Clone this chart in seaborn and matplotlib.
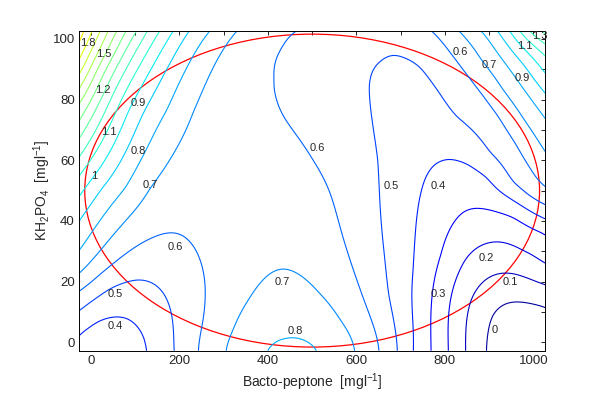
"""Response surface contour: Bacto-peptone vs KH2PO4."""

import matplotlib

matplotlib.use("Agg")
import matplotlib.pyplot as plt
import numpy as np
import pandas as pd
import seaborn as sns
from matplotlib.patches import Ellipse

# --- contour traces, (Bacto-peptone, KH2PO4) per level ---
lvl_0_0 = [(891, -3.1), (906, 9.0), (936, 12.8), (966, 13.4), (1027, 12.2)]
lvl_0_1 = [(847, -3.1), (860, 14.5), (898, 21.1), (958, 22.7), (1027, 18.8)]
lvl_0_2 = [(809, -3.1), (815, 15.6), (846, 27.7), (898, 32.6), (973, 29.9), (1027, 24.9)]
lvl_0_3 = [(770, -3.1), (770, 12.3), (793, 28.8), (823, 39.8), (883, 44.0), (958, 42.0), (1027, 37.0)]
lvl_0_4_right = [(725, -3.1), (729, 23.3), (747, 49.7), (812, 60.7), (855, 59.0), (898, 55.2),
                 (945, 48.0), (1027, 40.3)]
lvl_0_4_left = [(-27, 2.9), (16, 7.3), (58, 8.2), (100, 5.6), (122, 1.3), (126, -2.9)]
lvl_0_5_right = [(695, -3.1), (672, 15.6), (652, 50.8), (650, 59.6), (638, 70.6), (627, 84.9),
                 (634, 89.4), (661, 92.3), (702, 92.7), (747, 91.0), (785, 83.0), (823, 73.9),
                 (898, 61.8), (950, 52.0), (990, 48.0), (1027, 45.0)]
lvl_0_5_left = [(-27, 10.1), (39, 17.8), (103, 20.7), (145, 18.9), (175, 12.8), (186, 4.6), (188, -2.9)]
lvl_0_6_mid = [(457, 102.8), (435, 97.0), (420, 87.2), (423, 79.5), (442, 72.8), (503, 59.6),
               (540, 49.7), (570, 34.3), (608, 17.8), (653, -3.1)]
lvl_0_6_right = [(770, 102.8), (813, 95.0), (857, 87.1), (890, 81.0), (921, 75.0), (960, 66.0),
                 (996, 57.5), (1027, 50.5)]
lvl_0_6_left = [(-27, 16.9), (47, 25.5), (107, 32.1), (167, 35.9), (220, 33.2), (246, 27.1),
                (258, 17.8), (254, 6.8), (241, -2.9)]
lvl_0_7_bump = [(303, -2.9), (322, 3.5), (360, 14.5), (397, 21.6), (435, 24.4), (472, 22.2),
                (518, 15.6), (563, 6.8), (597, -3.1)]
lvl_0_7_left = [(-27, 22.0), (60, 37.0), (130, 50.8), (230, 76.0), (328, 102.8)]
lvl_0_7_right = [(830, 102.8), (880, 93.0), (930, 83.0), (980, 73.0), (1027, 63.0)]
lvl_0_8_bump = [(390, -2.9), (412, -0.4), (442, 0.7), (488, 0.2), (521, -2.9)]
lvl_0_8_left = [(-27, 29.8), (81, 50.8), (175, 76.8), (270, 102.8)]
lvl_0_8_right = [(883, 102.8), (955, 88.3), (1027, 73.9)]
lvl_0_9_left = [(-27, 40.2), (23, 50.8), (122, 76.8), (222, 102.8)]
lvl_0_9_right = [(921, 102.8), (974, 92.5), (1027, 82.2)]
lvl_1_0_left = [(-27, 47.9), (-15, 50.8), (85, 76.8), (186, 102.8)]
lvl_1_0_right = [(947, 102.8), (987, 95.5), (1027, 88.3)]
lvl_1_1_left = [(-27, 54.5), (65, 78.5), (157, 102.8)]
lvl_1_1_right = [(970, 102.8), (998, 98.8), (1027, 94.9)]
lvl_1_2_left = [(-27, 61.0), (50, 82.0), (127, 102.8)]
lvl_1_2_right = [(989, 102.8), (1008, 101.0), (1027, 99.3)]
lvl_1_3_left = [(-27, 67.0), (39, 85.0), (105, 102.8)]
lvl_1_3_right = [(1005, 102.8), (1027, 100.5)]
lvl_1_4 = [(-27, 73.0), (26, 88.0), (79, 102.8)]
lvl_1_5 = [(-27, 78.5), (15, 90.5), (58, 102.8)]
lvl_1_6 = [(-27, 83.5), (6, 93.0), (39, 102.8)]
lvl_1_7 = [(-27, 88.0), (-3, 95.5), (21, 102.8)]
lvl_1_8 = [(-27, 92.5), (-12, 97.5), (2, 102.8)]
lvl_1_9 = [(-27, 98.0), (-13, 102.8)]
# a few spot values between the lines
spot_x = [-27, 1027, 1027, -27, 60, 1000, 400, 540, 700, 560]
spot_y = [102.8, 102.8, -2.8, -2.8, -2.8, 0.0, 50.0, 85.0, 102.8, 102.8]
spot_z = [1.95, 1.34, -0.08, 0.37, 0.34, -0.07, 0.66, 0.56, 0.53, 0.57]

traces = {
    0.0: [lvl_0_0], 0.1: [lvl_0_1], 0.2: [lvl_0_2], 0.3: [lvl_0_3],
    0.4: [lvl_0_4_right, lvl_0_4_left], 0.5: [lvl_0_5_right, lvl_0_5_left],
    0.6: [lvl_0_6_mid, lvl_0_6_right, lvl_0_6_left],
    0.7: [lvl_0_7_bump, lvl_0_7_left, lvl_0_7_right],
    0.8: [lvl_0_8_bump, lvl_0_8_left, lvl_0_8_right],
    0.9: [lvl_0_9_left, lvl_0_9_right], 1.0: [lvl_1_0_left, lvl_1_0_right],
    1.1: [lvl_1_1_left, lvl_1_1_right], 1.2: [lvl_1_2_left, lvl_1_2_right],
    1.3: [lvl_1_3_left, lvl_1_3_right], 1.4: [lvl_1_4], 1.5: [lvl_1_5],
    1.6: [lvl_1_6], 1.7: [lvl_1_7], 1.8: [lvl_1_8], 1.9: [lvl_1_9],
}

# contour labels as they sit in the reference
label_text = ["1.8", "1.5", "1.2", "0.9", "1.1", "0.8", "1", "0.7", "0.6", "0.5", "0.4",
              "0.6", "0.7", "1.1", "0.9", "1.3", "0.6", "0.5", "0.4", "0.7", "0.8",
              "0.2", "0.1", "0.3", "0"]
label_x = [-6, 28, 28, 108, 41, 108, 7, 135, 512, 679, 786,
           836, 900, 981, 975, 1015, 190, 54, 54, 433, 461,
           894, 947, 785, 912]
label_y = [98.7, 95.1, 83.3, 78.9, 69.3, 63.1, 54.7, 51.9, 64.0, 51.4, 51.4,
           95.7, 91.3, 97.8, 87.1, 100.9, 31.5, 15.8, 5.3, 19.7, 3.8,
           27.9, 19.7, 15.8, 4.0]

# red design-region ellipse
ell_center = (500, 50)
ell_semi = (514, 51.6)

levels = np.round(np.arange(0.0, 1.95, 0.1), 1)
xlim = (-27, 1027)
ylim = (-2.8, 102.8)


def build_samples():
    rows = [(x, y, z) for z, parts in traces.items() for part in parts for x, y in part]
    rows += list(zip(spot_x, spot_y, spot_z))
    return pd.DataFrame(rows, columns=["x", "y", "z"])


def thin_plate(df, gx, gy, smooth=6e-3):
    # scale both factors to screen-like units so distances are balanced
    su, sv = 0.4423 / 300, 3.027 / 300
    u, v, z = df["x"].to_numpy() * su, df["y"].to_numpy() * sv, df["z"].to_numpy()
    n = len(z)

    def kern(d):
        with np.errstate(divide="ignore", invalid="ignore"):
            return np.where(d > 0, d**2 * np.log(d), 0.0)

    k = kern(np.hypot(u[:, None] - u[None, :], v[:, None] - v[None, :]))
    p = np.column_stack([np.ones(n), u, v])
    a = np.zeros((n + 3, n + 3))
    a[:n, :n] = k + smooth * np.eye(n)
    a[:n, n:] = p
    a[n:, :n] = p.T
    coef = np.linalg.solve(a, np.concatenate([z, np.zeros(3)]))
    w, c = coef[:n], coef[n:]

    gu, gv = gx.ravel() * su, gy.ravel() * sv
    kg = kern(np.hypot(gu[:, None] - u[None, :], gv[:, None] - v[None, :]))
    return (kg @ w + c[0] + c[1] * gu + c[2] * gv).reshape(gx.shape)


def main():
    sns.set_theme(style="white")
    plt.rcParams["font.family"] = ["Liberation Sans", "DejaVu Sans"]
    plt.rcParams["mathtext.fontset"] = "custom"
    plt.rcParams["mathtext.rm"] = "Liberation Sans"
    plt.rcParams["mathtext.it"] = "Liberation Sans"

    samples = build_samples()
    gx, gy = np.meshgrid(np.linspace(*xlim, 260), np.linspace(*ylim, 180))
    gz = thin_plate(samples, gx, gy)

    fig = plt.figure(figsize=(6.03, 3.96), dpi=100)
    ax = fig.add_axes([79 / 603, 1 - 350.7 / 396, 466.3 / 603, 320.2 / 396])
    ax.contour(gx, gy, gz, levels=levels, cmap="jet", vmin=-0.075, vmax=2.925,
               linewidths=0.8)
    ax.add_patch(Ellipse(ell_center, 2 * ell_semi[0], 2 * ell_semi[1], fill=False,
                         edgecolor="red", linewidth=0.9))
    for t, x, y in zip(label_text, label_x, label_y):
        ax.text(x, y, t, fontsize=8, ha="center", va="center")

    ax.set_xlim(*xlim)
    ax.set_ylim(*ylim)
    ax.set_xticks(np.arange(0, 1001, 200))
    ax.set_xticks(np.arange(0, 1001, 100), minor=True)
    ax.set_yticks(np.arange(0, 101, 20))
    ax.set_yticks(np.arange(0, 101, 10), minor=True)
    ax.tick_params(which="both", direction="in", top=True, right=True, length=3.2,
                   width=0.6, color="black", labelsize=9.5, pad=3)
    for s in ax.spines.values():
        s.set_color("black")
        s.set_linewidth(0.7)
    ax.set_xlabel("Bacto-peptone  [mgl$^{-1}$]", fontsize=10, labelpad=3)
    ax.set_ylabel("KH$_2$PO$_4$  [mgl$^{-1}$]", fontsize=10, labelpad=0)
    fig.savefig("out.png", dpi=100, facecolor="white")
    plt.close(fig)


if __name__ == "__main__":
    main()
